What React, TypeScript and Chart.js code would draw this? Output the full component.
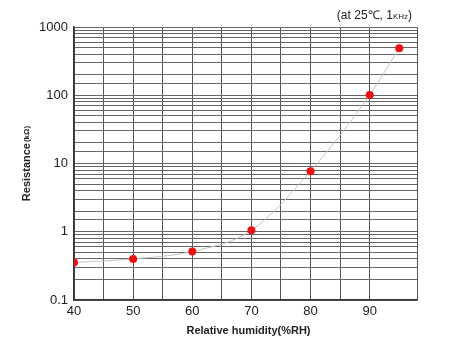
import React, { useEffect, useRef } from "react";
import { Chart, registerables } from "chart.js";

Chart.register(...registerables);

const humidity = [40, 50, 60, 70, 80, 90, 95];
const resistance = [0.355, 0.4, 0.515, 1.05, 7.7, 101, 490];
const yLabels = [0.1, 1, 10, 100, 1000];
const xLabels = [40, 50, 60, 70, 80, 90];

const FONT = "'Liberation Sans', Arial, Helvetica, sans-serif";

const textPlugin = {
  id: "customText",
  afterDraw(chart: any) {
    const ctx = chart.ctx;
    const area = chart.chartArea;
    ctx.save();
    ctx.fillStyle = "#222";
    // top-right note
    ctx.textBaseline = "middle";
    ctx.textAlign = "left";
    const a = "(at 25\u2103, 1";
    ctx.font = `8px ${FONT}`;
    const bW = ctx.measureText("KHz").width;
    ctx.font = `12px ${FONT}`;
    const aW = ctx.measureText(a).width;
    const cW = ctx.measureText(")").width;
    const right = 412;
    let x = right - aW - bW - cW;
    const y = 16;
    ctx.fillText(a, x, y);
    x += aW;
    ctx.font = `8px ${FONT}`;
    ctx.fillText("KHz", x, y + 1);
    x += bW;
    ctx.font = `12px ${FONT}`;
    ctx.fillText(")", x, y);

    // x title
    ctx.font = `bold 11px ${FONT}`;
    ctx.textAlign = "center";
    ctx.fillText("Relative humidity(%RH)", (area.left + area.right) / 2 + 3, 331);

    // y title
    ctx.translate(27, 164);
    ctx.rotate(-Math.PI / 2);
    ctx.font = `bold 11px ${FONT}`;
    const r = "Resistance";
    const rW = ctx.measureText(r).width;
    ctx.font = `bold 8px ${FONT}`;
    const kW = ctx.measureText("(k\u03a9)").width;
    const total = rW + kW;
    ctx.textAlign = "left";
    ctx.font = `bold 11px ${FONT}`;
    ctx.fillText(r, -total / 2, 0);
    ctx.font = `bold 8px ${FONT}`;
    ctx.fillText("(k\u03a9)", -total / 2 + rW + 1, 0);
    ctx.restore();
  },
};

function isPow10(v: number) {
  const l = Math.log10(v);
  return Math.abs(l - Math.round(l)) < 1e-6;
}

export default function App() {
  const ref = useRef<HTMLCanvasElement>(null);
  useEffect(() => {
    document.body.style.margin = "0";
    const chart = new Chart(ref.current!, {
      type: "line",
      data: {
        datasets: [
          {
            data: humidity.map((h, i) => ({ x: h, y: resistance[i] })),
            borderColor: "#c4c4c4",
            borderWidth: 1,
            pointBackgroundColor: "#ee1111",
            pointBorderColor: "#ee1111",
            pointRadius: 4,
            pointBorderWidth: 0,
            cubicInterpolationMode: "monotone",
            fill: false,
          },
        ],
      },
      options: {
        animation: false,
        responsive: false,
        maintainAspectRatio: false,
        layout: { padding: { left: 0, right: 48, top: 27, bottom: 0 } },
        plugins: { legend: { display: false }, tooltip: { enabled: false }, title: { display: false } },
        scales: {
          x: {
            type: "linear",
            min: 40,
            max: 98,
            afterFit: (s: any) => {
              s.height = 51;
            },
            ticks: {
              stepSize: 5,
              autoSkip: false,
              maxRotation: 0,
              padding: 4,
              color: "#222",
              font: { family: FONT, size: 13 },
              callback: (v: any) => (xLabels.includes(Number(v)) ? String(v) : ""),
            },
            grid: { color: "#555", lineWidth: 1, drawTicks: false },
            border: { color: "#333", width: 1.5 },
          },
          y: {
            type: "logarithmic",
            min: 0.1,
            max: 1000,
            afterFit: (s: any) => {
              s.width = 74;
            },
            ticks: {
              autoSkip: false,
              padding: 6,
              color: "#222",
              font: { family: FONT, size: 13 },
              callback: (v: any) => {
                const n = Number(v);
                if (isPow10(n)) {
                  const m = yLabels.find((t) => Math.abs(t - n) / t < 1e-6);
                  return m !== undefined ? String(m) : "";
                }
                return "";
              },
            },
            grid: { color: "#666", lineWidth: 1, drawTicks: false },
            border: { color: "#333", width: 1.5 },
          },
        },
      } as any,
      plugins: [textPlugin],
    });
    return () => chart.destroy();
  }, []);
  return (
    <div style={{ position: "absolute", left: 0, top: 0, width: 465, height: 351, background: "#fff" }}>
      <canvas ref={ref} width={465} height={351} style={{ width: 465, height: 351 }} />
    </div>
  );
}
